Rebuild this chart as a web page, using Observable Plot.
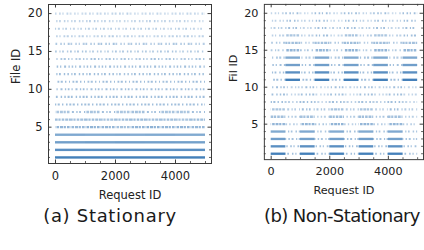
<!DOCTYPE html>
<html><head><meta charset="utf-8">
<script src="https://cdn.jsdelivr.net/npm/d3@7"></script>
<script src="https://cdn.jsdelivr.net/npm/@observablehq/plot@0.6"></script>
<style>
body{margin:0;width:424px;height:250px;overflow:hidden;position:relative;background:#fff;font-family:"DejaVu Sans",sans-serif}
.panel{position:absolute;top:0}
.cap{position:absolute;top:205px;font-size:18px;white-space:nowrap;color:#1a1a1a;font-family:"DejaVu Sans",sans-serif;transform:translateX(-50%)}
</style></head><body>
<div id="pa" class="panel" style="left:0"></div>
<div id="pb" class="panel" style="left:217px"></div>
<div class="cap" id="ca" style="left:110px;letter-spacing:0.7px">(a) Stationary</div>
<div class="cap" id="cb" style="left:342px;letter-spacing:-0.6px">(b) Non-Stationary</div>
<script>
// File IDs (rows) and request bins (500 requests each)
const fileIds = [1,2,3,4,5,6,7,8,9,10,11,12,13,14,15,16,17,18,19,20];
const binStarts = [0,500,1000,1500,2000,2500,3000,3500,4000,4500];
const binSize = 500;
// Requests per file per bin (stationary)
const stationaryCounts = [
  [140,138,142,137,139,141,136,140,138,139],
  [70,72,68,71,69,70,73,67,70,71],
  [46,45,48,44,47,46,45,47,46,44],
  [35,36,34,35,37,33,35,36,34,35],
  [28,26,29,27,22,28,30,27,28,26],
  [23,22,24,21,23,25,22,23,20,24],
  [20,19,21,18,20,22,19,21,20,19],
  [17,18,16,17,19,15,17,18,16,17],
  [15,14,16,15,13,16,15,14,16,15],
  [14,12,15,13,14,15,12,14,13,14],
  [12,13,11,12,14,12,13,11,12,13],
  [12,11,13,12,10,12,11,13,12,11],
  [11,10,12,11,10,11,12,10,11,10],
  [10,9,11,10,10,9,11,10,9,10],
  [9,10,9,8,10,9,9,10,8,9],
  [9,8,9,10,8,9,8,9,9,8],
  [8,8,7,9,8,8,7,8,9,8],
  [8,7,8,8,7,8,8,7,8,7],
  [7,7,8,7,6,7,8,7,7,6],
  [7,6,7,7,8,6,7,6,7,7]
];
// Requests per file per bin (non-stationary)
const nonStationaryCounts = [
  [139,13,141,12,138,14,140,13,137,12],
  [71,12,69,11,70,13,72,12,68,11],
  [47,11,45,10,46,12,48,11,45,10],
  [35,10,36,9,34,11,35,10,36,9],
  [28,9,27,10,29,8,28,9,27,9],
  [23,9,22,8,24,9,23,10,22,8],
  [20,8,19,9,21,8,20,7,19,8],
  [17,8,18,7,16,8,17,8,18,7],
  [15,7,14,7,16,6,15,7,14,7],
  [14,7,13,6,14,7,15,7,13,6],
  [13,139,12,141,13,138,12,140,13,137],
  [12,70,11,72,12,69,13,71,11,70],
  [11,46,10,47,11,45,12,46,10,47],
  [10,35,9,36,10,34,11,35,9,36],
  [9,28,10,27,9,29,8,28,9,27],
  [9,23,8,22,9,24,8,23,9,22],
  [8,20,8,19,7,21,8,20,8,19],
  [8,17,7,18,8,16,8,17,7,18],
  [7,15,7,14,6,16,7,15,7,14],
  [7,14,6,13,7,15,7,14,6,13]
];
const xTicks = [0,2000,4000];
const xMinorTicks = [500,1000,1500,2500,3000,3500,4500,5000];
const yTicks = [5,10,15,20];
const yMinorTicks = [1,2,3,4,6,7,8,9,11,12,13,14,16,17,18,19];

const W = 212, H = 212, MT = 4, MB = 49, ML = 48, MR = 1;
const innerH = H - MT - MB, innerW = W - ML - MR;
const ink = "#3a3a3a";
const blue = "#1560a8";

// texture styles for the scattered request dots (by density class)
const lightDashes = [
  [1.5, 1.8, 2, 2.6, 1.2, 1.5, 1.8, 3, 1.4, 2.2],
  [2, 2.4, 1.3, 1.6, 1.7, 3.1, 1.5, 1.9, 1.2, 2.8],
  [1.2, 2.9, 1.8, 1.4, 2.1, 2.2, 1.4, 2.6, 1.6, 1.7]
];
const textures = [
  {min: 33, max: Infinity, kind: "solid"},
  {min: 20, max: 33, kind: "medium"},
  {min: 0, max: 20, kind: "light"}
];
function sum(a) { return a.reduce((s, v) => s + v, 0); }
function dashFor(kind, f) {
  if (kind === "solid") return null;
  if (kind === "medium") return [3, 0.7, 2.2, 1.1, 2.6, 0.9];
  return lightDashes[f % 3];
}

function table(counts) {
  return fileIds.flatMap((f, i) => binStarts.map((s, j) => ({file: f, x1: s, x2: s + binSize, n: counts[i][j]})));
}

function dotMarks(counts) {
  const rows = table(counts);
  const marks = [];
  for (const t of textures) {
    for (const f of fileIds) {
      const sub = rows.filter(d => d.file === f && d.n >= t.min && d.n < t.max);
      if (!sub.length) continue;
      const dash = dashFor(t.kind, f);
      const cover = dash ? sum(dash.filter((_, k) => k % 2 === 0)) / sum(dash) : 1;
      const cap = t.kind === "light" ? 0.4 : 0.8;
      marks.push(Plot.ruleY(sub, {
        y: "file", x1: "x1", x2: "x2", stroke: blue,
        strokeWidth: t.kind === "light" ? 2.1 : 2.4,
        strokeDasharray: dash ? dash.join(",") : undefined,
        strokeDashoffset: dash ? (f * 5.3) % sum(dash) : undefined,
        strokeOpacity: d => Math.min(cap, 0.68 * (1 - Math.exp(-d.n / 40)) / cover + (t.kind === "solid" ? 0.14 : 0))
      }));
    }
  }
  return marks;
}

function panel(counts, ylabel) {
  return Plot.plot({
    width: W, height: H, marginTop: MT, marginBottom: MB, marginLeft: ML, marginRight: MR,
    style: {fontFamily: "DejaVu Sans", fontSize: "11.5px", color: "#222", background: "transparent"},
    x: {domain: [-233, 5200], ticks: xTicks, tickSize: 0, tickPadding: 8, tickFormat: d => String(d), label: null},
    y: {domain: [0.2, 21.2], ticks: yTicks, tickSize: 0, tickPadding: 6, tickFormat: d => String(d), label: null},
    opacity: {domain: [0, 1], range: [0, 1]},
    marks: [
      ...dotMarks(counts),
      Plot.frame({stroke: ink, strokeWidth: 1}),
      Plot.tickX(xTicks, {x: d => d, insetTop: innerH - 3.5, stroke: ink}),
      Plot.tickX(xTicks, {x: d => d, insetBottom: innerH - 3.5, stroke: ink}),
      Plot.tickX(xMinorTicks, {x: d => d, insetTop: innerH - 2, stroke: ink, strokeWidth: 0.8}),
      Plot.tickX(xMinorTicks, {x: d => d, insetBottom: innerH - 2, stroke: ink, strokeWidth: 0.8}),
      Plot.tickY(yTicks, {y: d => d, insetRight: innerW - 3.5, stroke: ink}),
      Plot.tickY(yTicks, {y: d => d, insetLeft: innerW - 3.5, stroke: ink}),
      Plot.tickY(yMinorTicks, {y: d => d, insetRight: innerW - 2, stroke: ink, strokeWidth: 0.8}),
      Plot.tickY(yMinorTicks, {y: d => d, insetLeft: innerW - 2, stroke: ink, strokeWidth: 0.8}),
      Plot.text(["Request ID"], {frameAnchor: "bottom", dy: 35, text: d => d, fontSize: 11.5, fill: "#222"}),
      Plot.text([ylabel], {frameAnchor: "left", dx: -32, rotate: -90, text: d => d, fontSize: 11.5, fill: "#222"})
    ]
  });
}

document.getElementById("pa").append(panel(stationaryCounts, "File ID"));
document.getElementById("pb").append(panel(nonStationaryCounts, "Fil ID"));
</script>
</body></html>
